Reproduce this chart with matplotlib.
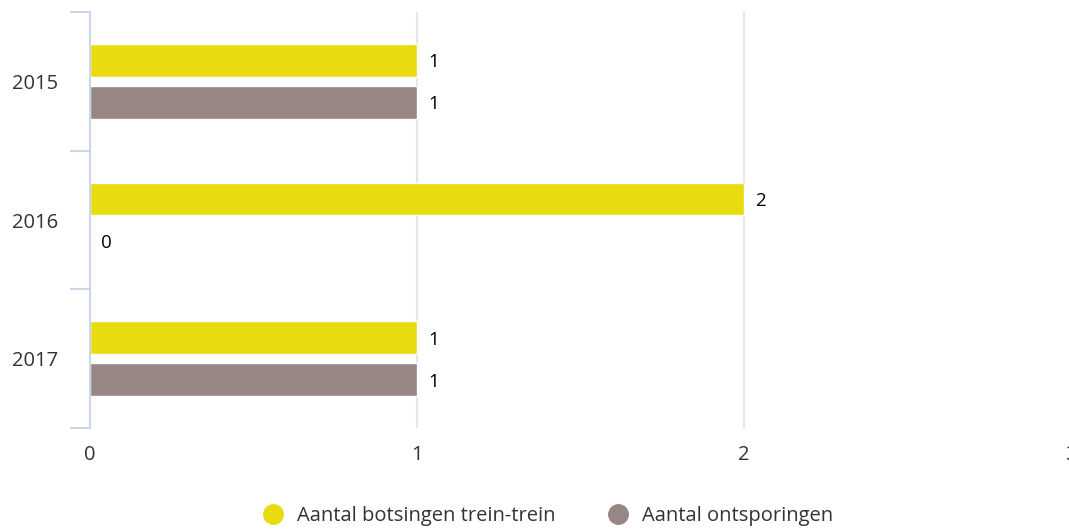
import matplotlib
matplotlib.use("Agg")
import matplotlib.pyplot as plt
from matplotlib.lines import Line2D
import numpy as np

plt.rcParams['font.family'] = ['Open Sans', 'DejaVu Sans']

years = ["2015", "2016", "2017"]
botsingen = [1, 2, 1]
ontsporingen = [1, 0, 1]
series_names = ["Aantal botsingen trein-trein", "Aantal ontsporingen"]
xticks = [0, 1, 2, 3]

YELLOW = "#e8dc10"
GREY = "#968684"
AXC = "#ccd6eb"

W, H = 1069, 529
fig = plt.figure(figsize=(W / 100, H / 100), dpi=100)
ax = fig.add_axes([90 / W, 1 - 428 / H, (1071 - 90) / W, 416 / H])

y = np.arange(len(years))
off = 0.151
h = 0.235
ax.barh(y - off, botsingen, height=h, color=YELLOW, edgecolor="white", linewidth=1, zorder=3)
ax.barh(y + off, ontsporingen, height=h, color=GREY, edgecolor="white", linewidth=1, zorder=3)

FS = 14.5
for i in range(len(years)):
    ax.annotate(str(botsingen[i]), (botsingen[i], y[i] - off), xytext=(8, -1.5),
                textcoords="offset points", va="center", ha="left", fontsize=13.5, color="black")
    ax.annotate(str(ontsporingen[i]), (ontsporingen[i], y[i] + off), xytext=(8, -1.5),
                textcoords="offset points", va="center", ha="left", fontsize=13.5, color="black")

ax.set_xlim(0, 3)
ax.set_ylim(len(years) - 0.5, -0.5)
ax.set_xticks(xticks)
ax.set_xticklabels([str(t) for t in xticks])
ax.set_yticks(y)
ax.set_yticklabels(years)
ax.set_yticks(np.arange(len(years) + 1) - 0.5, minor=True)

ax.tick_params(axis="x", length=0, pad=12, labelsize=FS, labelcolor="#333333")
ax.tick_params(axis="y", which="major", length=0, pad=23, labelsize=FS, labelcolor="#333333")
ax.tick_params(axis="y", which="minor", length=14.4, width=1.5, color=AXC, direction="out")

for s in ["top", "right", "bottom"]:
    ax.spines[s].set_visible(False)
ax.spines["left"].set_color(AXC)
ax.spines["left"].set_linewidth(1.5)
ax.spines["left"].set_zorder(5)

ax.grid(axis="x", color="#e6e6e6", linewidth=1.5, zorder=0)
ax.set_axisbelow(True)

handles = [Line2D([0], [0], marker="o", linestyle="", markersize=14, markerfacecolor=YELLOW, markeredgecolor=YELLOW),
           Line2D([0], [0], marker="o", linestyle="", markersize=14, markerfacecolor=GREY, markeredgecolor=GREY)]
leg = fig.legend(handles, series_names, loc="center", bbox_to_anchor=(548 / W, 1 - 516 / H),
                 ncol=2, frameon=False, fontsize=FS, handletextpad=0.7, columnspacing=2.6,
                 handlelength=1.0)
for t in leg.get_texts():
    t.set_color("#333333")

fig.savefig("out.png", dpi=100)
